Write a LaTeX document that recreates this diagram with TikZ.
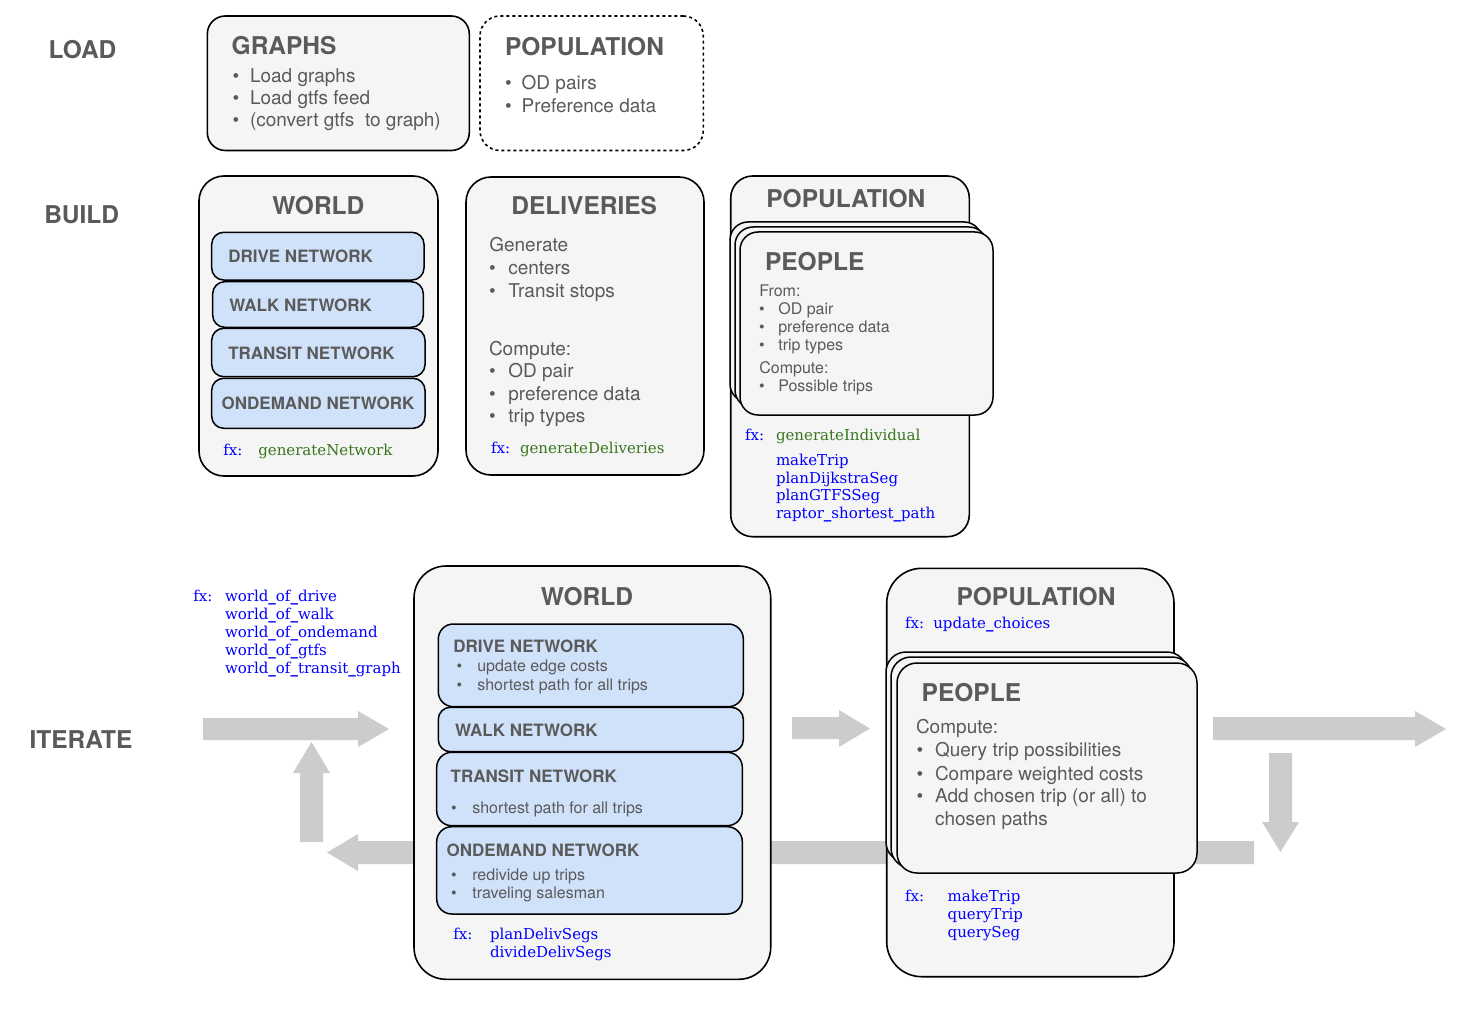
\documentclass[tikz,border=0pt]{standalone}
\usepackage{fontspec}
\setmainfont{TeX Gyre Heros}
\newfontfamily\fxfont{DejaVu Serif}
\usetikzlibrary{fit}
\definecolor{tg}{HTML}{5A5A5A}
\definecolor{boxfill}{HTML}{F5F5F5}
\definecolor{netfill}{HTML}{D0E2FA}
\definecolor{fxb}{HTML}{0000FF}
\definecolor{fxg}{HTML}{38761D}
\definecolor{arr}{HTML}{CCCCCC}
\newcounter{tn}
\newcommand\Tx[4][]{\stepcounter{tn}\node[txt,#1] (t\arabic{tn}) at (#2,#3) {#4};}
\newcommand\Bu[5][]{\stepcounter{tn}\node[txt,#1,anchor=base] (b\arabic{tn}) at (#2,#4) {\textbullet};\node[txt,#1] (t\arabic{tn}) at (#3,#4) {#5};}
\newcommand\Bx[6]{\path (#3,#4) coordinate (#1-a) (#5,#6) coordinate (#1-b); \node[#2, fit=(#1-a)(#1-b)] (#1) {};}
\newcommand\us{{\bfseries\_}}
\tikzset{
 txt/.style={anchor=base west, inner sep=0pt, outer sep=0pt, text=tg, font=\fontsize{19}{22}\selectfont},
 sm/.style={font=\fontsize{16}{18}\selectfont},
 ttl/.style={font=\fontsize{24.5}{28}\selectfont\bfseries},
 net/.style={font=\fontsize{17}{20}\selectfont\bfseries},
 fxs/.style={font=\fxfont\fontsize{15}{18}\selectfont, text=fxb},
 fxgreen/.style={fxs, text=fxg},
 outer/.style={draw=black, line width=1.6pt, fill=boxfill, rounded corners=22pt, inner sep=0pt},
 dashbox/.style={draw=black, line width=1.6pt, dash pattern=on 3pt off 3pt, fill=white, rounded corners=20pt, inner sep=0pt},
 netbox/.style={draw=black, line width=1.5pt, fill=netfill, rounded corners=12pt, inner sep=0pt},
 pbox/.style={draw=black, line width=1.5pt, fill=boxfill, rounded corners=18pt, inner sep=0pt},
 garrow/.style={fill=arr, draw=none},
}
\begin{document}
\begin{tikzpicture}[x=1pt,y=-1pt]
\useasboundingbox (0,0) rectangle (1466,1024);
\fill[white] (0,0) rectangle (1466,1024);

% section labels
\Tx[ttl,anchor=base]{82.5}{58.3}{LOAD}
\Tx[ttl,anchor=base]{81.7}{223.3}{BUILD}
\Tx[ttl,anchor=base]{81}{748.5}{ITERATE}

% grey block arrows (behind boxes)
\fill[garrow] (203,718) -- (358,718) -- (358,711) -- (389,729) -- (358,747) -- (358,740) -- (203,740) -- cycle;
\fill[garrow] (300,842) -- (300,773) -- (293,773) -- (311.5,742) -- (330,773) -- (323,773) -- (323,842) -- cycle;
\fill[garrow] (1254,841) -- (358,841) -- (358,834) -- (327,852.5) -- (358,871) -- (358,864) -- (1254,864) -- cycle;
\fill[garrow] (792,717) -- (839,717) -- (839,710) -- (870,728.5) -- (839,747) -- (839,739) -- (792,739) -- cycle;
\fill[garrow] (1213,717) -- (1415,717) -- (1415,711) -- (1446,729) -- (1415,747) -- (1415,740) -- (1213,740) -- cycle;
\fill[garrow] (1269,753) -- (1292,753) -- (1292,822) -- (1299,822) -- (1280.5,852) -- (1262,822) -- (1269,822) -- cycle;

% LOAD row
\Bx{graphs}{outer,rounded corners=18pt}{207.3}{16}{469.3}{150.5}
\Tx[ttl]{231.7}{55}{GRAPHS}
\Bu{236}{250}{83}{Load graphs}
\Bu{236}{250}{105}{Load gtfs feed}
\Bu{236}{250}{127}{(convert gtfs\ \ to graph)}
\Bx{popload}{dashbox}{480}{16}{703.3}{150.5}
\Tx[ttl]{505}{55.7}{POPULATION}
\Bu{508.5}{521.7}{90}{OD pairs}
\Bu{508.5}{521.7}{112.7}{Preference data}

% BUILD world
\Bx{bworld}{outer,rounded corners=25pt}{199}{176}{438}{476}
\Tx[ttl,anchor=base]{318.3}{215}{WORLD}
\Bx{bdrive}{netbox}{211.7}{232.3}{424}{280}
\Tx[net]{228.3}{262.7}{DRIVE NETWORK}
\Bx{bwalk}{netbox}{212.7}{281.7}{423.3}{327.3}
\Tx[net]{229.3}{311.7}{WALK NETWORK}
\Bx{btransit}{netbox}{211.7}{328.3}{425}{376.7}
\Tx[net]{228.3}{359.3}{TRANSIT NETWORK}
\Bx{bond}{netbox}{211.7}{378.3}{425}{428.3}
\Tx[net]{221.7}{409.3}{ONDEMAND NETWORK}
\Tx[fxs]{223.3}{455}{fx:}
\Tx[fxgreen]{258.3}{455}{generateNetwork}

% BUILD deliveries
\Bx{deliv}{outer,rounded corners=25pt}{466}{177}{704}{475}
\Tx[ttl,anchor=base]{584.2}{215}{DELIVERIES}
\Tx{489.3}{251.7}{Generate}
\Bu{492.5}{508.3}{274}{centers}
\Bu{492.5}{508.3}{297.3}{Transit stops}
\Tx{489}{355}{Compute:}
\Bu{492.5}{508.3}{377.3}{OD pair}
\Bu{492.5}{508.3}{400}{preference data}
\Bu{492.5}{508.3}{422.7}{trip types}
\Tx[fxs]{491}{453.3}{fx:}
\Tx[fxgreen]{520}{453.3}{generateDeliveries}

% BUILD population
\Bx{bpop}{outer,rounded corners=22pt}{730.7}{176}{969.3}{536.7}
\Tx[ttl,anchor=base]{845.8}{207.3}{POPULATION}
\Bx{bp3}{pbox}{730}{222}{982}{402}
\Bx{bp2}{pbox}{735}{227}{987}{408}
\Bx{bp1}{pbox}{740}{232}{993}{415}
\Tx[ttl]{765}{270}{PEOPLE}
\Tx[sm]{759.3}{296.7}{From:}
\Bu[sm]{762}{778.3}{314}{OD pair}
\Bu[sm]{762}{778.3}{332.3}{preference data}
\Bu[sm]{762}{778.3}{350}{trip types}
\Tx[sm]{759.3}{373.3}{Compute:}
\Bu[sm]{762}{778.3}{391.7}{Possible trips}
\Tx[fxs]{745}{440}{fx:}
\Tx[fxgreen]{776}{440}{generateIndividual}
\Tx[fxs]{776}{465}{makeTrip}
\Tx[fxs]{776}{483.3}{planDijkstraSeg}
\Tx[fxs]{776}{500.7}{planGTFSSeg}
\Tx[fxs]{776}{518.3}{raptor\us shortest\us path}

% ITERATE left functions
\Tx[fxs]{193.3}{601.7}{fx:}
\Tx[fxs]{225}{601.7}{world\us of\us drive}
\Tx[fxs]{225}{619.3}{world\us of\us walk}
\Tx[fxs]{225}{637.3}{world\us of\us ondemand}
\Tx[fxs]{225}{655.3}{world\us of\us gtfs}
\Tx[fxs]{225}{673.3}{world\us of\us transit\us graph}

% ITERATE world
\Bx{iworld}{outer,rounded corners=32pt}{414}{566}{770.7}{979.3}
\Tx[ttl,anchor=base]{587}{605}{WORLD}
\Bx{idrive}{netbox,rounded corners=15pt}{438.3}{624}{743.3}{706.7}
\Tx[net]{453.3}{652.3}{DRIVE NETWORK}
\Bu[sm]{459.3}{477.3}{671.7}{update edge costs}
\Bu[sm]{459.3}{477.3}{690}{shortest path for all trips}
\Bx{iwalk}{netbox}{438.3}{707.3}{743.3}{751.7}
\Tx[net]{455}{736}{WALK NETWORK}
\Bx{itransit}{netbox,rounded corners=15pt}{436.7}{752.3}{742.3}{825.7}
\Tx[net]{450.7}{782.7}{TRANSIT NETWORK}
\Bu[sm]{454}{472.3}{813.3}{shortest path for all trips}
\Bx{iond}{netbox,rounded corners=15pt}{436.7}{826.7}{742.3}{914}
\Tx[net]{446.7}{856}{ONDEMAND NETWORK}
\Bu[sm]{454}{472.3}{880}{redivide up trips}
\Bu[sm]{454}{472.3}{898.3}{traveling salesman}
\Tx[fxs]{453.3}{939}{fx:}
\Tx[fxs]{490}{939}{planDelivSegs}
\Tx[fxs]{490}{957.3}{divideDelivSegs}

% ITERATE population
\Bx{ipop}{outer,rounded corners=35pt}{886.7}{568.3}{1174}{976.7}
\Tx[ttl,anchor=base]{1036}{605}{POPULATION}
\Tx[fxs]{905}{628.3}{fx:}
\Tx[fxs]{933.3}{628.3}{update\us choices}
\Bx{ip3}{pbox,rounded corners=20pt}{886}{652}{1187}{862}
\Bx{ip2}{pbox,rounded corners=20pt}{891}{657}{1192}{868}
\Bx{ip1}{pbox,rounded corners=20pt}{897}{663}{1197}{873}
\Tx[ttl]{921.7}{701.7}{PEOPLE}
\Tx{916}{733.3}{Compute:}
\Bu{920}{935}{756.7}{Query trip possibilities}
\Bu{920}{935}{780}{Compare weighted costs}
\Bu{920}{935}{802.7}{Add chosen trip (or all) to}
\Tx{935}{825.7}{chosen paths}
\Tx[fxs]{905}{901.7}{fx:}
\Tx[fxs]{947.7}{901.7}{makeTrip}
\Tx[fxs]{947.7}{919.5}{queryTrip}
\Tx[fxs]{947.7}{937.3}{querySeg}
\end{tikzpicture}
\end{document}
